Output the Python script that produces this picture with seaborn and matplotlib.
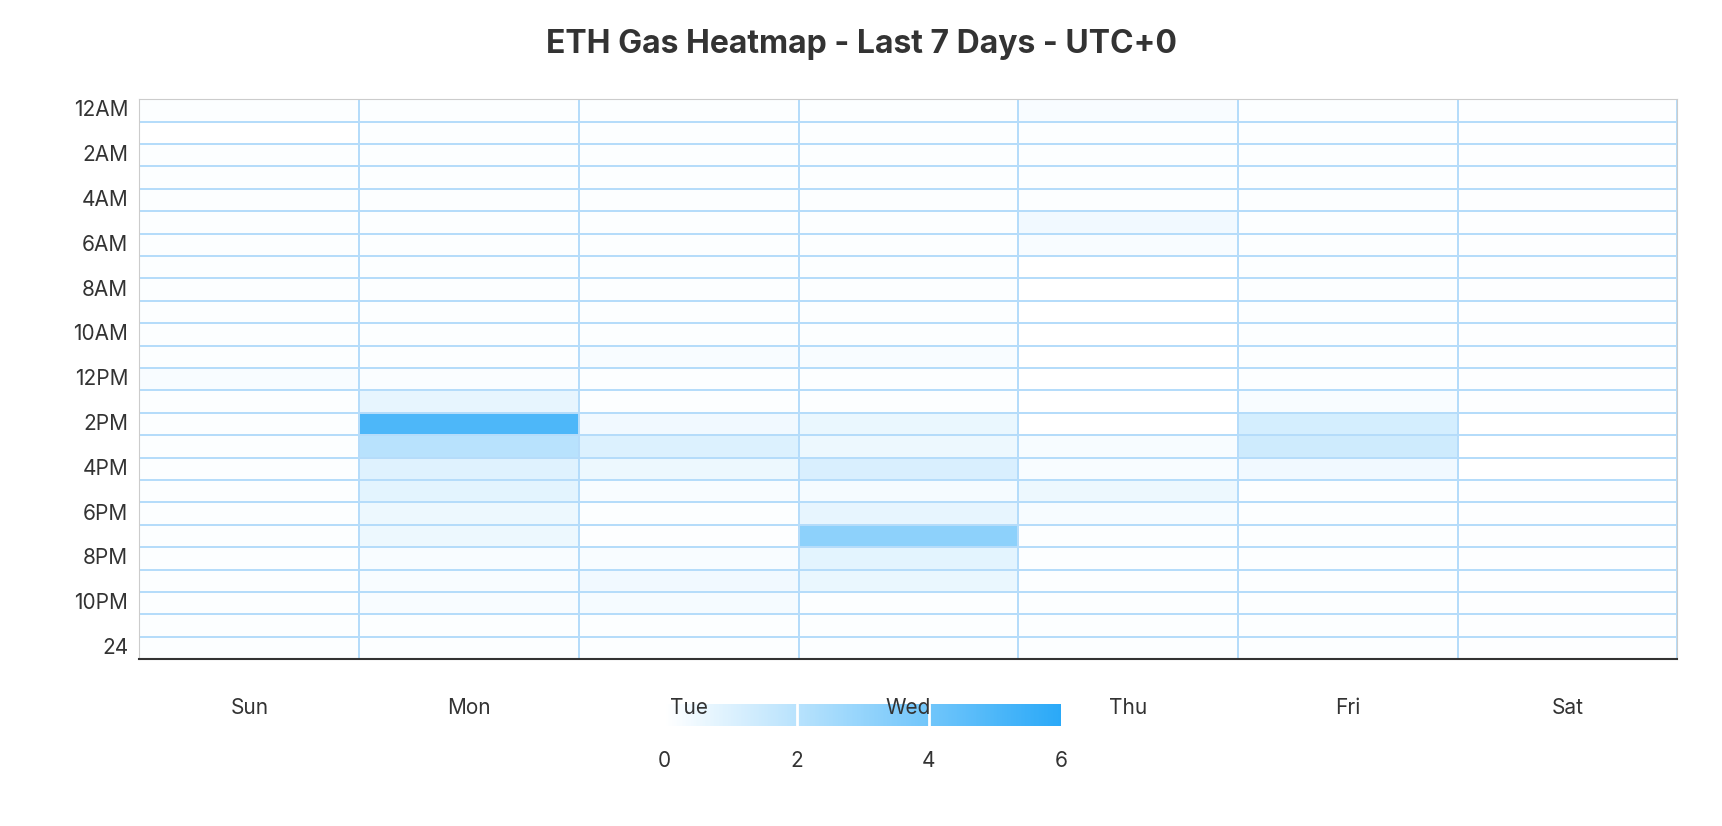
import numpy as np
import pandas as pd
import seaborn as sns
import matplotlib.pyplot as plt
from matplotlib.colors import LinearSegmentedColormap

days = ["Sun", "Mon", "Tue", "Wed", "Thu", "Fri", "Sat"]
hours = list(range(25))
hour_labels = ["12AM", "2AM", "4AM", "6AM", "8AM", "10AM", "12PM",
               "2PM", "4PM", "6PM", "8PM", "10PM", "24"]

# gas values per hour (0..24) for each day
sun = [0.1, 0.0, 0.1, 0.1, 0.1, 0.1, 0.1, 0.1, 0.1, 0.1, 0.1, 0.1, 0.2,
       0.1, 0.1, 0.1, 0.1, 0.1, 0.1, 0.1, 0.1, 0.1, 0.1, 0.1, 0.1]
mon = [0.1, 0.1, 0.1, 0.1, 0.1, 0.1, 0.1, 0.1, 0.1, 0.1, 0.1, 0.1, 0.15,
       0.7, 5.0, 2.0, 0.9, 0.8, 0.5, 0.5, 0.2, 0.2, 0.2, 0.1, 0.1]
tue = [0.1, 0.1, 0.1, 0.1, 0.1, 0.1, 0.1, 0.1, 0.1, 0.1, 0.1, 0.2, 0.1,
       0.1, 0.4, 1.0, 0.5, 0.2, 0.1, 0.05, 0.2, 0.4, 0.3, 0.1, 0.1]
wed = [0.1, 0.1, 0.1, 0.1, 0.1, 0.1, 0.1, 0.1, 0.1, 0.1, 0.1, 0.2, 0.1,
       0.1, 0.6, 0.5, 1.1, 0.3, 0.7, 3.2, 0.8, 0.6, 0.1, 0.1, 0.1]
thu = [0.2, 0.1, 0.1, 0.1, 0.1, 0.4, 0.2, np.nan, np.nan, np.nan, np.nan,
       np.nan, np.nan, np.nan, np.nan, 0.25, 0.2, 0.5, 0.25, 0.1, 0.1,
       0.1, 0.1, 0.1, 0.1]
fri = [0.1, 0.1, 0.1, 0.1, 0.1, 0.1, 0.1, 0.1, 0.1, 0.1, 0.1, 0.1, 0.1,
       0.2, 1.2, 1.4, 0.4, 0.1, 0.1, 0.1, 0.1, 0.1, 0.1, 0.1, 0.1]
sat = [0.05, 0.05, 0.05, 0.05, 0.05, 0.05, 0.05, 0.05, 0.05, 0.05, 0.05,
       0.05, 0.05, 0.05, 0.0, 0.0, 0.0, 0.05, 0.05, 0.05, 0.05, 0.05,
       0.05, 0.05, 0.05]

df = pd.DataFrame({"Sun": sun, "Mon": mon, "Tue": tue, "Wed": wed,
                   "Thu": thu, "Fri": fri, "Sat": sat}, index=hours)

sns.set_style("white")
plt.rcParams['font.family'] = ['Inter', 'DejaVu Sans']

cmap = LinearSegmentedColormap.from_list("gas", ["#ffffff", "#2aa9f8"])

fig = plt.figure(figsize=(17.22, 8.26), dpi=100)
ax = fig.add_axes([0.081, 0.202, 0.893, 0.678])
cax = fig.add_axes([0.386, 0.121, 0.23, 0.027])
# keep the day labels drawn over the colour bar
cax.set_zorder(0)
ax.set_zorder(2)

sns.heatmap(df, ax=ax, cmap=cmap, vmin=0, vmax=6, linewidths=1.2,
            linecolor="#b5dcfa", cbar_ax=cax,
            cbar_kws={"orientation": "horizontal", "ticks": [0, 2, 4, 6]})

ax.set_yticks(np.arange(0, 25, 2) + 0.5)
ax.set_yticklabels(hour_labels, rotation=0, fontsize=15, color="#333333")
ax.set_xticks(np.arange(7) + 0.5)
ax.set_xticklabels(days, fontsize=15, color="#333333")
ax.tick_params(axis="x", length=0, pad=28)
ax.tick_params(axis="y", length=0, pad=8)
ax.set_xlabel("")
ax.set_ylabel("")
for side in ["top", "left", "right"]:
    ax.spines[side].set_visible(True)
    ax.spines[side].set_color("#cccccc")
ax.spines["bottom"].set_visible(True)
ax.spines["bottom"].set_color("#333333")
ax.spines["bottom"].set_linewidth(1.5)

cax.tick_params(length=0, labelsize=15, labelcolor="#333333", pad=18)
for v in [2, 4]:
    cax.axvline(v, color="white", lw=2)
cax.set_frame_on(False)

fig.suptitle("ETH Gas Heatmap - Last 7 Days - UTC+0", fontsize=23,
             fontweight="bold", color="#333333", y=0.965)

fig.savefig("out.png", dpi=100)
